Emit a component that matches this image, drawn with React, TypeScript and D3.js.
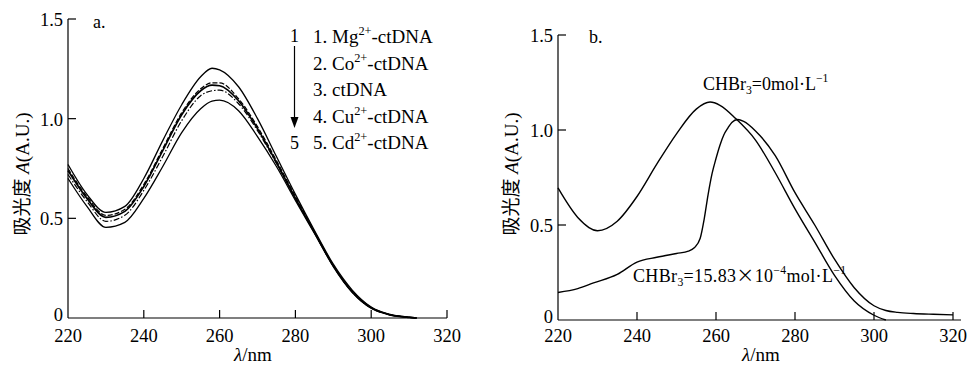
import { useEffect, useRef } from 'react'
import * as d3 from 'd3'

// panel a: absorbance of ctDNA with metal ions
const lamA = [220, 225, 230, 235, 240, 245, 250, 255, 258, 260, 265, 270, 275, 280, 285, 290, 295, 300, 305, 310, 312]
const mgDNA = [0.77, 0.62, 0.53, 0.56, 0.70, 0.89, 1.07, 1.21, 1.253, 1.245, 1.16, 1.00, 0.81, 0.62, 0.44, 0.27, 0.14, 0.055, 0.018, 0.004, 0]
const coDNA = [0.75, 0.61, 0.515, 0.545, 0.67, 0.85, 1.03, 1.15, 1.18, 1.18, 1.10, 0.96, 0.79, 0.61, 0.435, 0.265, 0.135, 0.053, 0.017, 0.003, 0]
const ctDNA = [0.74, 0.60, 0.505, 0.535, 0.66, 0.84, 1.02, 1.14, 1.168, 1.165, 1.09, 0.95, 0.78, 0.60, 0.43, 0.26, 0.13, 0.05, 0.016, 0.003, 0]
const cuDNA = [0.72, 0.585, 0.485, 0.515, 0.64, 0.81, 0.99, 1.115, 1.14, 1.143, 1.075, 0.94, 0.775, 0.60, 0.43, 0.26, 0.13, 0.05, 0.016, 0.003, 0]
const cdDNA = [0.70, 0.56, 0.455, 0.48, 0.60, 0.76, 0.93, 1.05, 1.088, 1.093, 1.04, 0.91, 0.76, 0.59, 0.425, 0.26, 0.13, 0.05, 0.016, 0.003, 0]
const seriesA = [mgDNA, coDNA, ctDNA, cuDNA, cdDNA]
const legendA = [
  [['1. Mg', ''], ['2+', 'sup'], ['-ctDNA', '']],
  [['2. Co', ''], ['2+', 'sup'], ['-ctDNA', '']],
  [['3. ctDNA', '']],
  [['4. Cu', ''], ['2+', 'sup'], ['-ctDNA', '']],
  [['5. Cd', ''], ['2+', 'sup'], ['-ctDNA', '']],
]

// panel b: with and without CHBr3
const lamB0 = [220, 225, 230, 235, 240, 245, 250, 255, 258.5, 261, 265, 270, 275, 280, 285, 290, 295, 300, 303]
const absB0 = [0.695, 0.54, 0.47, 0.52, 0.65, 0.82, 0.98, 1.11, 1.147, 1.13, 1.06, 0.947, 0.775, 0.585, 0.41, 0.235, 0.10, 0.025, 0]
const lamB1 = [220, 225, 229, 235, 240, 245, 250, 253, 254.5, 256, 257, 258, 259, 260, 261, 262, 263, 264, 265.5, 267, 270, 275, 280, 285, 290, 295, 300, 303, 306, 310, 315, 320]
const absB1 = [0.145, 0.165, 0.195, 0.24, 0.305, 0.33, 0.35, 0.362, 0.38, 0.43, 0.53, 0.66, 0.77, 0.85, 0.92, 0.975, 1.01, 1.04, 1.055, 1.045, 0.995, 0.865, 0.67, 0.50, 0.32, 0.17, 0.075, 0.05, 0.04, 0.034, 0.03, 0.027]

const xTicks = [220, 240, 260, 280, 300, 320]
const yTicks = [0, 0.5, 1.0, 1.5]
const yTickLabels = ['0', '0.5', '1.0', '1.5']

const dashA = ['', '5,2', '', '6,2,1.5,2', '']
const widthA = [1.3, 1.2, 1.7, 1.2, 1.3]

const SERIF = "'Liberation Serif', 'Times New Roman', Times, 'DejaVu Serif', serif"
const CJK = "'Noto Sans CJK SC', sans-serif"

type Seg = string[]

function richText(sel: d3.Selection<SVGTextElement, unknown, null, undefined>, segs: Seg[], fs: number) {
  let shift = 0
  segs.forEach(([t, kind]) => {
    const ts = sel.append('tspan').text(t)
    let target = 0
    if (kind === 'sup') { target = -fs * 0.42; ts.attr('font-size', fs * 0.65) }
    if (kind === 'sub') { target = fs * 0.22; ts.attr('font-size', fs * 0.65) }
    if (kind === 'i') ts.attr('font-style', 'italic')
    if (kind === 'cjk') ts.style('font-family', CJK)
    if (target !== shift) { ts.attr('dy', target - shift); shift = target }
  })
}

export default function App() {
  const ref = useRef<SVGSVGElement>(null)

  useEffect(() => {
    if (!ref.current) return
    const svg = d3.select(ref.current)
    svg.selectAll('*').remove()

    const drawPanel = (o: { left: number; right: number; top: number; bottom: number; axisEnd: number; ylabX: number; xlabX: number; tag: string; tagX: number; tagY: number }) => {
      const x = d3.scaleLinear().domain([220, 320]).range([o.left, o.right])
      const y = d3.scaleLinear().domain([0, 1.5]).range([o.bottom, o.top])
      const g = svg.append('g')

      g.append('line').attr('x1', o.left).attr('x2', o.left).attr('y1', o.top).attr('y2', o.bottom)
        .attr('stroke', '#000').attr('stroke-width', 1.2)
      g.append('line').attr('x1', o.left).attr('x2', o.axisEnd).attr('y1', o.bottom).attr('y2', o.bottom)
        .attr('stroke', '#000').attr('stroke-width', 1.2)

      yTicks.forEach((v, i) => {
        if (v > 0) {
          g.append('line').attr('x1', o.left).attr('x2', o.left + 8).attr('y1', y(v)).attr('y2', y(v))
            .attr('stroke', '#000').attr('stroke-width', 1.2)
        }
        g.append('text').attr('x', o.left - 5).attr('y', y(v) + (v > 0 ? 7 : 3)).attr('text-anchor', 'end')
          .style('font-family', SERIF).style('font-size', '18.5px').text(yTickLabels[i])
      })
      xTicks.forEach(v => {
        if (v > 220) {
          g.append('line').attr('x1', x(v)).attr('x2', x(v)).attr('y1', o.bottom).attr('y2', o.bottom - 8)
            .attr('stroke', '#000').attr('stroke-width', 1.2)
        }
        g.append('text').attr('x', x(v)).attr('y', 342).attr('text-anchor', 'middle')
          .style('font-family', SERIF).style('font-size', '18.5px').text(String(v))
      })

      const yl = g.append('text').attr('transform', `translate(${o.ylabX},174) rotate(-90)`)
        .attr('text-anchor', 'middle').style('font-family', SERIF).style('font-size', '19px')
      richText(yl, [['吸光度', 'cjk'], [' ', ''], ['A', 'i'], ['(A.U.)', '']], 19)

      const xl = g.append('text').attr('x', o.xlabX).attr('y', 361).attr('text-anchor', 'middle')
        .style('font-family', SERIF).style('font-size', '19px')
      richText(xl, [['λ', 'i'], ['/nm', '']], 19)

      g.append('text').attr('x', o.tagX).attr('y', o.tagY).style('font-family', SERIF).style('font-size', '18px').text(o.tag)
      return { x, y, g }
    }

    // panel a
    const a = drawPanel({ left: 68, right: 447, top: 19, bottom: 318, axisEnd: 447, ylabX: 29, xlabX: 253, tag: 'a.', tagX: 93, tagY: 28 })
    seriesA.forEach((vals, i) => {
      const line = d3.line<number>().x((_, j) => a.x(lamA[j])).y(d => a.y(d)).curve(d3.curveMonotoneX)
      a.g.append('path').attr('d', line(vals) || '').attr('fill', 'none').attr('stroke', '#000')
        .attr('stroke-width', widthA[i]).attr('stroke-dasharray', dashA[i] || null)
    })

    // arrow 1 -> 5
    a.g.append('text').attr('x', 294.5).attr('y', 42).attr('text-anchor', 'middle')
      .style('font-family', SERIF).style('font-size', '18px').text('1')
    a.g.append('line').attr('x1', 294.5).attr('x2', 294.5).attr('y1', 46).attr('y2', 120)
      .attr('stroke', '#000').attr('stroke-width', 1.2)
    a.g.append('path').attr('d', 'M290.5,117 L298.5,117 L294.5,128 Z').attr('fill', '#000')
    a.g.append('text').attr('x', 294.5).attr('y', 149).attr('text-anchor', 'middle')
      .style('font-family', SERIF).style('font-size', '18px').text('5')

    legendA.forEach((segs, i) => {
      const t = a.g.append('text').attr('x', 313).attr('y', 43 + i * 26.5)
        .style('font-family', SERIF).style('font-size', '19px')
      richText(t, segs, 19)
    })

    // panel b
    const b = drawPanel({ left: 558, right: 953, top: 35, bottom: 320, axisEnd: 961, ylabX: 518, xlabX: 761, tag: 'b.', tagX: 589, tagY: 43 })
    const lineB = (lams: number[]) => d3.line<number>().x((_, j) => b.x(lams[j])).y(d => b.y(d)).curve(d3.curveMonotoneX)
    b.g.append('path').attr('d', lineB(lamB0)(absB0) || '').attr('fill', 'none').attr('stroke', '#000').attr('stroke-width', 1.4)
    b.g.append('path').attr('d', lineB(lamB1)(absB1) || '').attr('fill', 'none').attr('stroke', '#000').attr('stroke-width', 1.4)

    const l0 = b.g.append('text').attr('x', 703).attr('y', 90).style('font-family', SERIF).style('font-size', '18px')
    richText(l0, [['CHBr', ''], ['3', 'sub'], ['=0mol·L', ''], ['−1', 'sup']], 18)
    const l1 = b.g.append('text').attr('x', 633).attr('y', 282).style('font-family', SERIF).style('font-size', '18px')
      .attr('textLength', 213).attr('lengthAdjust', 'spacing')
    richText(l1, [['CHBr', ''], ['3', 'sub'], ['=15.83', ''], ['×', 'cjk'], ['10', ''], ['−4', 'sup'], ['mol·L', ''], ['−1', 'sup']], 18)

    return () => { svg.selectAll('*').remove() }
  }, [])

  return (
    <svg ref={ref} width={971} height={366} viewBox="0 0 971 366"
      style={{ position: 'absolute', left: 0, top: 0, background: '#fff' }} />
  )
}
